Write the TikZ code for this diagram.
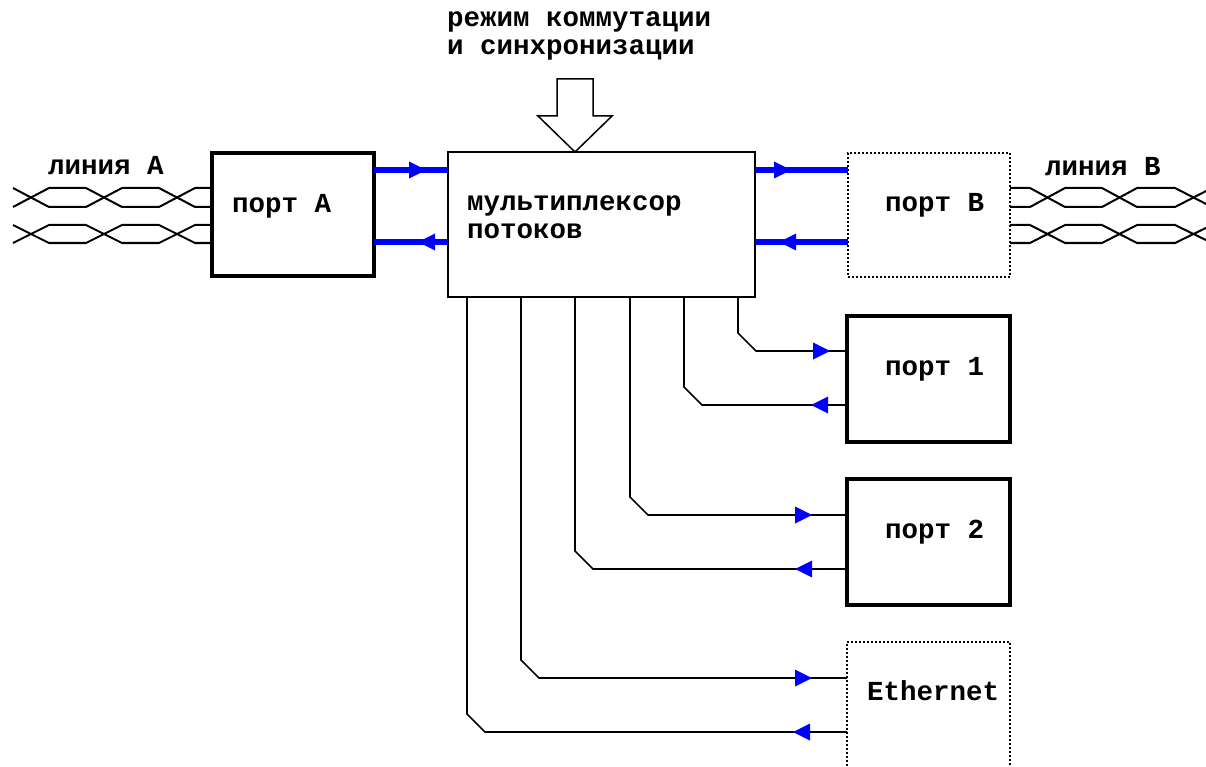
\documentclass[tikz,border=0pt]{standalone}
\usepackage{fontspec}
\newfontfamily\courfont{Liberation Mono}
\usetikzlibrary{calc,decorations.markings}
\definecolor{arrblue}{RGB}{0,0,255}
\tikzset{
  thickbox/.style={draw, line width=4.5pt, inner sep=0pt, outer sep=0pt},
  thinbox/.style={draw, line width=1.5pt, inner sep=0pt, outer sep=0pt},
  dotbox/.style={draw, line width=2pt, dash pattern=on 2pt off 2pt, inner sep=0pt, outer sep=0pt},
  lbl/.style={anchor=base west, inner sep=0pt, outer sep=0pt, text height=15pt, text depth=5pt},
  wire/.style={line width=2pt, line join=miter},
  conn/.style={line width=1.6pt},
  bus/.style={line width=5.5pt, draw=arrblue},
  tri/.style={postaction={decorate, decoration={markings,
      mark=at position #1 with {\fill[arrblue] (-17pt,-8.5pt) -- (0pt,0pt) -- (-17pt,8.5pt) -- cycle;}}}},
  blockarrow/.style={draw, line width=1.5pt, fill=white, line join=miter}
}
\begin{document}
\begin{tikzpicture}[x=1pt, y=-1pt, font=\courfont\bfseries\fontsize{27.5pt}{21pt}\selectfont]
\useasboundingbox (0,0) rectangle (1206,767);

% boxes
\node[thickbox, minimum width=162pt, minimum height=123pt] (pA) at (293,214.5) {};
\node[thinbox, minimum width=307pt, minimum height=145pt] (mux) at (601.5,224.5) {};
\node[dotbox, minimum width=162pt, minimum height=124pt] (pB) at (929,215) {};
\node[thickbox, minimum width=163pt, minimum height=126pt] (p1) at (928.5,379) {};
\node[thickbox, minimum width=163pt, minimum height=126pt] (p2) at (928.5,542) {};
\node[dotbox, minimum width=163pt, minimum height=160pt] (eth) at (928.5,722) {};

% texts
\node[lbl] (t1) at (447,27) {режим коммутации};
\node[lbl] (t2) at (447,55) {и синхронизации};
\node[lbl] (lA) at (48,175) {линия A};
\node[lbl] (lB) at (1045,176) {линия B};
\node[lbl] (tA) at (232,213) {порт A};
\node[lbl] (tm1) at (467,211) {мультиплексор};
\node[lbl] (tm2) at (467,239) {потоков};
\node[lbl] (tB) at (885,212) {порт B};
\node[lbl] (t1p) at (885,375) {порт 1};
\node[lbl] (t2p) at (885,538) {порт 2};
\node[lbl] (te) at (867,700) {Ethernet};

% block arrow
\draw[blockarrow] (557,79) -- (593,79) -- (593,116) -- (612,116) -- (575,152) -- (538,116) -- (557,116) -- cycle;

% row levels
\coordinate (r1) at (0,170);
\coordinate (r2) at (0,242);
\coordinate (y1) at (0,351);
\coordinate (y2) at (0,405);
\coordinate (y3) at (0,515);
\coordinate (y4) at (0,569);
\coordinate (y5) at (0,678);
\coordinate (y6) at (0,732);
\coordinate (x1) at (467,0);
\coordinate (x2) at (521,0);
\coordinate (x3) at (575,0);
\coordinate (x4) at (630,0);
\coordinate (x5) at (684,0);
\coordinate (x6) at (738,0);

% blue buses
\draw[bus, tri=-22pt] (pA.east |- r1) -- (mux.west |- r1);
\draw[bus, tri=30pt] (mux.west |- r2) -- (pA.east |- r2);
\draw[bus, tri=-57pt] (mux.east |- r1) -- (pB.west |- r1);
\draw[bus, tri=69pt] (pB.west |- r2) -- (mux.east |- r2);

% connectors to ports
\draw[conn, tri=-17pt] (mux.south -| x6) -- ($(x6 |- y1)+(0,-18)$) -- ($(x6 |- y1)+(18,0)$) -- (p1.west |- y1);
\draw[conn, tri=36pt] (p1.west |- y2) -- ($(x5 |- y2)+(18,0)$) -- ($(x5 |- y2)+(0,-18)$) -- (mux.south -| x5);
\draw[conn, tri=-35pt] (mux.south -| x4) -- ($(x4 |- y3)+(0,-18)$) -- ($(x4 |- y3)+(18,0)$) -- (p2.west |- y3);
\draw[conn, tri=52pt] (p2.west |- y4) -- ($(x3 |- y4)+(18,0)$) -- ($(x3 |- y4)+(0,-18)$) -- (mux.south -| x3);
\draw[conn, tri=-35pt] (mux.south -| x2) -- ($(x2 |- y5)+(0,-18)$) -- ($(x2 |- y5)+(18,0)$) -- (eth.west |- y5);
\draw[conn, tri=54pt] (eth.west |- y6) -- ($(x1 |- y6)+(18,0)$) -- ($(x1 |- y6)+(0,-18)$) -- (mux.south -| x1);

% twisted pairs, left
\foreach \a/\b in {188/207, 225/243} {
  \draw[wire] (13,\a) -- (49,\b) -- (86,\b) -- (122,\a) -- (159,\a) -- (195,\b) -- (210,\b);
  \draw[wire] (13,\b) -- (49,\a) -- (86,\a) -- (122,\b) -- (159,\b) -- (195,\a) -- (210,\a);
}
% twisted pairs, right
\foreach \a/\b in {188/207, 225/243} {
  \draw[wire] (1010,\a) -- (1030,\a) -- (1065,\b) -- (1102,\b) -- (1137,\a) -- (1175,\a) -- (1212,\b);
  \draw[wire] (1010,\b) -- (1030,\b) -- (1065,\a) -- (1102,\a) -- (1137,\b) -- (1175,\b) -- (1212,\a);
}
\end{tikzpicture}
\end{document}
